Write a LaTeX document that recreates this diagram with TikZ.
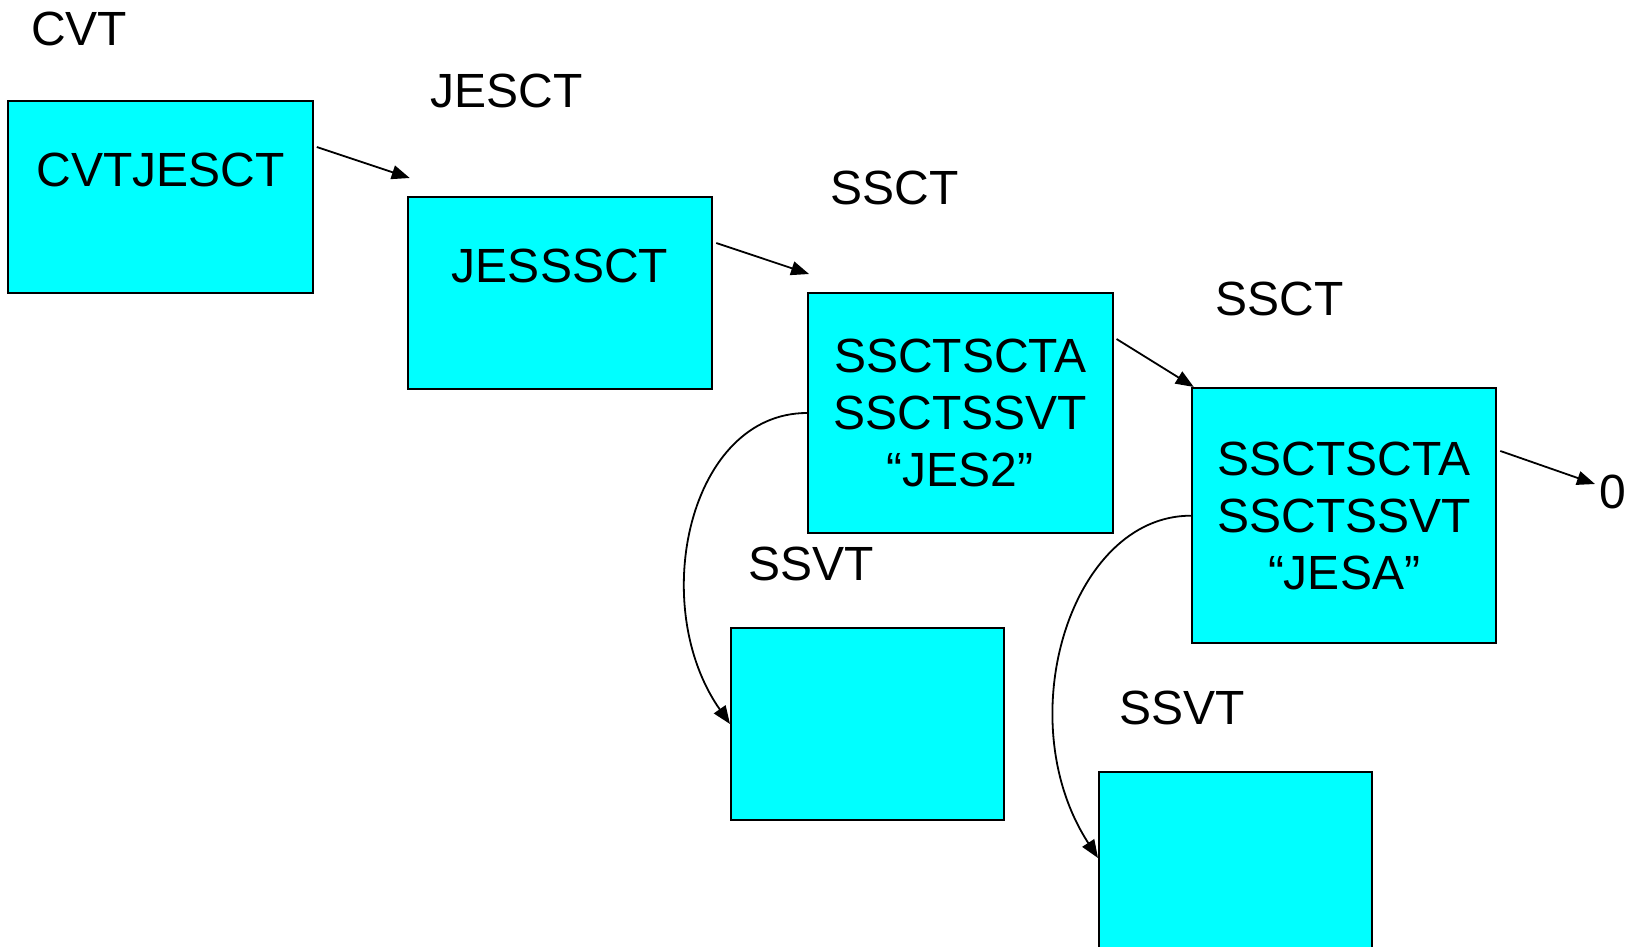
\documentclass[tikz,border=0pt]{standalone}
\usepackage{fontspec}
\setmainfont{Liberation Sans}
\usetikzlibrary{arrows.meta}
\definecolor{tblcyan}{HTML}{00FFFF}

\begin{document}
\begin{tikzpicture}[x=1pt, y=1pt,
        every node/.style={font=\fontsize{48}{57}\selectfont},
        tbl/.style={draw, line width=2pt, fill=tblcyan, inner sep=0pt, align=center,
            minimum width=304.5pt, minimum height=192pt},
        toptext/.style={text depth=54pt},
        blocklabel/.style={inner sep=0pt},
        ptr/.style={line width=1.8pt, -{Triangle[length=18pt,width=14pt]}}]
        \useasboundingbox (0,0) rectangle (1635,-947);

        % Nodes
        \node[tbl, toptext] (cvt) at (160.5,-197) {CVTJESCT};
        \node[tbl, toptext] (jesct) at (560,-293) {JESSSCT};
        \node[tbl, minimum height=240pt] (sscta) at (960.3,-413) {SSCTSCTA\\SSCTSSVT\\“JES2”};
        \node[tbl, minimum height=255.5pt] (ssctb) at (1344,-515.7) {SSCTSCTA\\SSCTSSVT\\“JESA”};
        \node[tbl, minimum width=273pt] (ssvta) at (867.5,-724) {};
        \node[tbl, minimum width=273pt] (ssvtb) at (1235.5,-868) {};

        % Labels
        \node[blocklabel] (cvtname) at (79.2,-28.7) {CVT};
        \node[blocklabel] (jesctname) at (506.7,-91.2) {JESCT};
        \node[blocklabel] (ssctaname) at (894.6,-187.7) {SSCT};
        \node[blocklabel] (ssctbname) at (1279.4,-299.3) {SSCT};
        \node[blocklabel] (ssvtaname) at (810.7,-564) {SSVT};
        \node[blocklabel] (ssvtbname) at (1181.9,-708) {SSVT};
        \node[blocklabel] (zero) at (1612.5,-492) {0};

        % Arrows
        \draw[ptr] ([shift={(3,-47)}]cvt.north east) -- ([shift={(3,18)}]jesct.north west);
        \draw[ptr] ([shift={(3,-47)}]jesct.north east) -- ([shift={(2,18)}]sscta.north west);
        \draw[ptr] ([shift={(3,-47)}]sscta.north east) -- ([shift={(3,0)}]ssctb.north west);
        \draw[ptr] ([shift={(3,-64)}]ssctb.north east) -- ([shift={(-4,8)}]zero.west);
        \draw[ptr] (sscta.west) to[out=180, in=125, out distance=118pt, in distance=145pt] (ssvta.west);
        \draw[ptr] (ssctb.west) to[out=180, in=123, out distance=120pt, in distance=165pt] ([yshift=10pt]ssvtb.west);
    \end{tikzpicture}
\end{document}
